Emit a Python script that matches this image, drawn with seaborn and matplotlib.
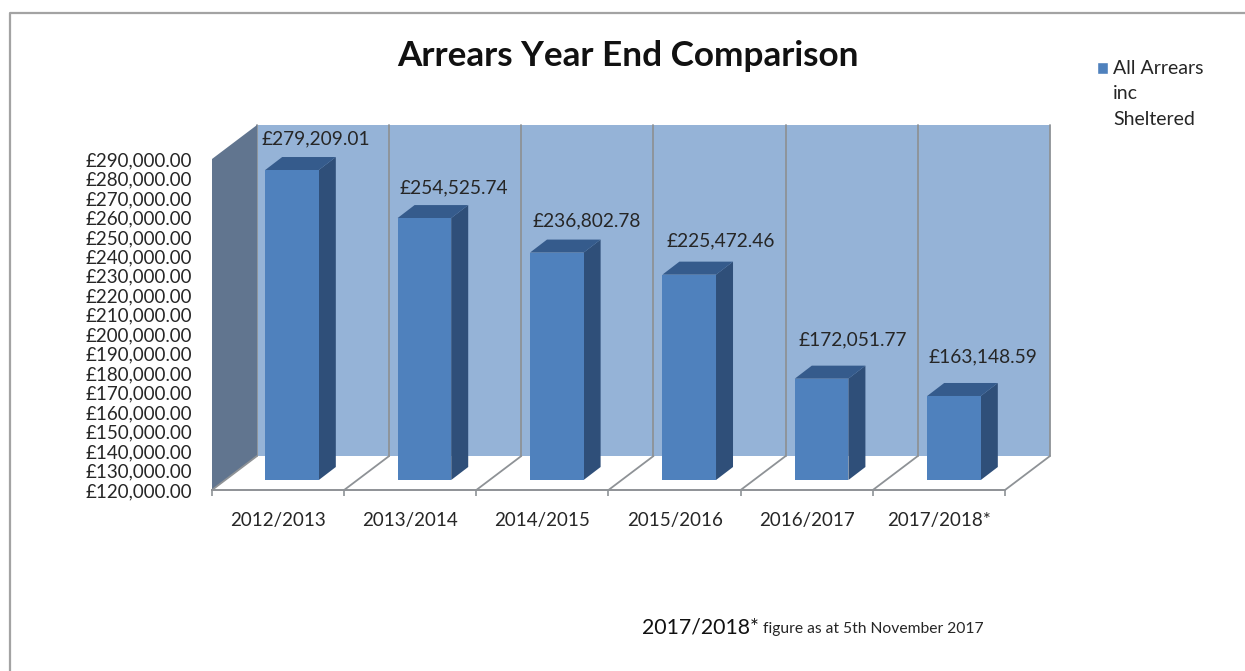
import matplotlib
matplotlib.use("Agg")
import matplotlib.pyplot as plt
import seaborn as sns
from matplotlib.lines import Line2D
from matplotlib.patches import Polygon, Patch
from matplotlib.transforms import Affine2D, IdentityTransform

years = ["2012/2013", "2013/2014", "2014/2015", "2015/2016", "2016/2017", "2017/2018*"]
arrears = [279209.01, 254525.74, 236802.78, 225472.46, 172051.77, 163148.59]
y_ticks = list(range(120000, 300000, 10000))
series_name = "All Arrears\ninc\nSheltered"

W, H = 1245, 671
Y_MIN, Y_MAX = 120000, 290000

# Pseudo-3D layout, all in pixels
FRONT_BOX = (212, 1005, 490, 159)   # left, right, bottom, top of the front plane
BAR_BOX = (225.8, 1020.2, 480, 149)  # same for the plane of the bar faces
WALL_SHIFT = (45, 34)
BAR_DEPTH = (17, 13)
BAR_WIDTH = 0.405
LABEL_SHIFT = [(24, 31), (29, 30), (30, 32), (32, 34), (31, 39), (29, 39)]

BACK_WALL = "#95B3D7"
SIDE_WALL = "#61758F"
BAR_FACE = "#4F81BD"
BAR_SIDE = "#2F4F79"
BAR_TOP = "#355B8C"
EDGE = "#8E9296"
INK = "#262626"
FONT = "Lato"

sns.set_theme(style="white")
plt.rcParams["font.family"] = [FONT, "DejaVu Sans"]

fig = plt.figure(figsize=(W / 100, H / 100), dpi=100, facecolor="white")


def axes_from_box(box):
    left, right, bottom, top = box
    return fig.add_axes([left / W, (H - bottom) / H, (right - left) / W, (bottom - top) / H])


# Outer frame of the slide
fig.add_artist(Line2D([9.5 / W, 9.5 / W, 1], [0, (H - 13) / H, (H - 13) / H],
                      transform=fig.transFigure, color="#A3A3A3", lw=1.6))

# Front plane: carries the axes, the walls and the floor
front = axes_from_box(FRONT_BOX)
front.set_xlim(-0.5, 5.5)
front.set_ylim(Y_MIN, Y_MAX)
front.patch.set_visible(False)
sns.despine(ax=front, top=True, right=True, left=True)
front.spines["bottom"].set_color(EDGE)
front.spines["bottom"].set_linewidth(1.4)

edges = [i - 0.5 for i in range(len(years) + 1)]
front.set_xticks(edges)
front.set_xticklabels([])
front.set_xticks(range(len(years)), labels=years, minor=True)
front.tick_params(axis="x", which="major", length=4, width=1.2, color=EDGE, bottom=True)
front.tick_params(axis="x", which="minor", length=0, pad=15.5, labelsize=13.5, labelcolor=INK)
front.set_yticks(y_ticks)
front.set_yticklabels([f"£{v:,.2f}" for v in y_ticks], fontsize=13.5, color=INK)
front.tick_params(axis="y", length=0, pad=14)

back = front.transData + Affine2D().translate(*WALL_SHIFT)

# Back wall with its category dividers
front.add_patch(Polygon([(-0.5, Y_MIN), (5.5, Y_MIN), (5.5, Y_MAX), (-0.5, Y_MAX)],
                        transform=back, facecolor=BACK_WALL, edgecolor="none", clip_on=False, zorder=1))
for e in edges:
    front.plot([e, e], [Y_MIN, Y_MAX], transform=back, color=EDGE, lw=1.3, clip_on=False, zorder=2)


def shifted(axis, x, y, shift=(0, 0)):
    px, py = axis.transData.transform((x, y))
    return px + shift[0], py + shift[1]


# Left side wall
front.add_patch(Polygon([shifted(front, -0.5, Y_MIN), shifted(front, -0.5, Y_MIN, WALL_SHIFT),
                         shifted(front, -0.5, Y_MAX, WALL_SHIFT), shifted(front, -0.5, Y_MAX)],
                        transform=IdentityTransform(), facecolor=SIDE_WALL, edgecolor="none",
                        clip_on=False, zorder=3))

# Floor dividers running from the front edge to the back wall
for e in edges:
    (x0, y0), (x1, y1) = shifted(front, e, Y_MIN), shifted(front, e, Y_MIN, WALL_SHIFT)
    front.add_line(Line2D([x0, x1], [y0, y1], transform=IdentityTransform(), color=EDGE, lw=1.3,
                          clip_on=False, zorder=4))

# Bars
ax = axes_from_box(BAR_BOX)
ax.patch.set_visible(False)
ax.set_zorder(front.get_zorder() + 1)
sns.barplot(x=years, y=arrears, color=BAR_FACE, saturation=1, width=BAR_WIDTH, ax=ax, zorder=3,
            edgecolor="none", linewidth=0)
ax.set_xlim(-0.5, 5.5)
ax.set_ylim(Y_MIN, Y_MAX)
ax.set_axis_off()

for i, value in enumerate(arrears):
    lo, hi = i - BAR_WIDTH / 2, i + BAR_WIDTH / 2
    ax.add_patch(Polygon([shifted(ax, hi, Y_MIN), shifted(ax, hi, Y_MIN, BAR_DEPTH),
                          shifted(ax, hi, value, BAR_DEPTH), shifted(ax, hi, value)],
                         transform=IdentityTransform(), facecolor=BAR_SIDE, edgecolor="none",
                         clip_on=False, zorder=2))
    ax.add_patch(Polygon([shifted(ax, lo, value), shifted(ax, hi, value),
                          shifted(ax, hi, value, BAR_DEPTH), shifted(ax, lo, value, BAR_DEPTH)],
                         transform=IdentityTransform(), facecolor=BAR_TOP, edgecolor="none",
                         clip_on=False, zorder=2))
    ax.annotate(f"£{value:,.2f}", xy=(i, value), xytext=LABEL_SHIFT[i], textcoords="offset pixels",
                ha="center", va="center", fontsize=13.8, color=INK, annotation_clip=False)

# Title, legend and footnote
fig.text(628 / W, (H - 56) / H, "Arrears Year End Comparison", ha="center", va="center",
         fontsize=25.3, fontweight="bold", color="#111111")

legend = fig.legend(handles=[Patch(facecolor=BAR_FACE, label=series_name)], frameon=False,
                    loc="upper left", bbox_to_anchor=(1097 / W, (H - 60) / H), borderaxespad=0,
                    borderpad=0, handlelength=0.57, handleheight=0.57, handletextpad=0.27,
                    prop={"family": FONT, "size": 14})
for text in legend.get_texts():
    text.set_color(INK)
    text.set_linespacing(1.6)
# The swatch sits beside the first line of the wrapped label
swatch = legend.legend_handles[0]
swatch.set_y(swatch.get_y() + 18.7)

fig.text(642 / W, (H - 628) / H, "2017/2018*", ha="left", va="center", fontsize=15.3, color="#111111")
fig.text(763 / W, (H - 629) / H, "figure as at 5th November 2017", ha="left", va="center",
         fontsize=11.25, color=INK)

fig.savefig("out.png", dpi=100, facecolor="white")
